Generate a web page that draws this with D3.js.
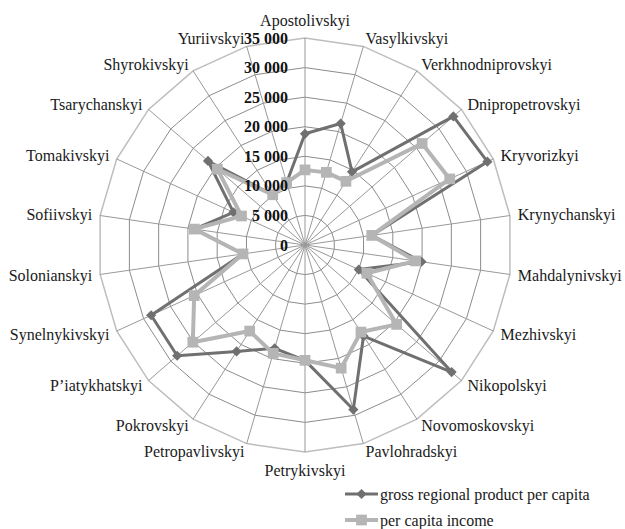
<!DOCTYPE html>
<html>
<head>
<meta charset="utf-8">
<script src="https://cdn.jsdelivr.net/npm/d3@7"></script>
<style>
  html, body { margin: 0; padding: 0; background: #fff; }
</style>
</head>
<body>
<div id="chart"></div>
<script>
const categories = [
  'Apostolivskyi', 'Vasylkivskyi', 'Verkhnodniprovskyi', 'Dnipropetrovskyi',
  'Kryvorizkyi', 'Krynychanskyi', 'Mahdalynivskyi', 'Mezhivskyi',
  'Nikopolskyi', 'Novomoskovskyi', 'Pavlohradskyi', 'Petrykivskyi',
  'Petropavlivskyi', 'Pokrovskyi', 'P\u2019iatykhatskyi', 'Synelnykivskyi',
  'Solonianskyi', 'Sofiivskyi', 'Tomakivskyi', 'Tsarychanskyi',
  'Shyrokivskyi', 'Yuriivskyi'
];
const grossProduct = [18800, 21400, 14700, 33200, 33900, 11400, 19900, 10000, 32800, 18300, 29000,
  19500, 18200, 21400, 28600, 28600, 10600, 18900, 13300, 21700, 10100, 11000];
const income = [12700, 12800, 12800, 26200, 26900, 11400, 18900, 11500, 20500, 17500, 21700,
  19500, 19100, 17300, 25100, 20600, 10600, 18900, 11800, 19600, 10100, 11000];
const ticks = [0, 5000, 10000, 15000, 20000, 25000, 30000, 35000];
const seriesNames = ['gross regional product per capita', 'per capita income'];

const width = 625, height = 529;
const cx = 305, cy = 245, R = 207;
const serif = '"Liberation Serif", "Times New Roman", serif';

const svg = d3.select('#chart').append('svg')
  .attr('width', width)
  .attr('height', height)
  .style('display', 'block');

const r = d3.scaleLinear().domain([0, 35000]).range([0, R]);
const angle = d3.scalePoint().domain(categories).range([0, 2 * Math.PI * (1 - 1 / categories.length)]);

const pt = (cat, v) => {
  const a = angle(cat);
  return [cx + r(v) * Math.sin(a), cy - r(v) * Math.cos(a)];
};

// Grid rings (polygons)
const grid = svg.append('g');
ticks.slice(1).forEach(t => {
  grid.append('polygon')
    .attr('points', categories.map(c => pt(c, t).join(',')).join(' '))
    .attr('fill', 'none')
    .attr('stroke', t === 35000 ? '#bdbdbd' : '#8c8c8c')
    .attr('stroke-width', t === 35000 ? 1.5 : 1);
});

// Spokes
grid.selectAll('line.spoke')
  .data(categories)
  .enter()
  .append('line')
  .attr('class', 'spoke')
  .attr('x1', cx).attr('y1', cy)
  .attr('x2', d => pt(d, 35000)[0])
  .attr('y2', d => pt(d, 35000)[1])
  .attr('stroke', '#999')
  .attr('stroke-width', 1);

// Category labels
svg.append('g').selectAll('text')
  .data(categories)
  .enter()
  .append('text')
  .each(function (d) {
    const a = angle(d);
    const s = Math.sin(a), c = Math.cos(a);
    let x = cx + (R + 8) * s;
    let y = cy - (R + 8) * c;
    let anchor = 'middle';
    if (s > 0.1) anchor = 'start';
    else if (s < -0.1) anchor = 'end';
    else y -= c * 10;
    d3.select(this)
      .attr('x', x)
      .attr('y', y)
      .attr('dy', '0.35em')
      .attr('text-anchor', anchor);
  })
  .attr('font-family', serif)
  .attr('font-size', 16)
  .attr('fill', '#1a1a1a')
  .text(d => d);

// Series: diamonds are squares turned 45 degrees
const line = d3.line().curve(d3.curveLinearClosed);
const series = [
  { name: seriesNames[0], values: grossProduct, color: '#707070', width: 3, size: 52, rot: 45 },
  { name: seriesNames[1], values: income, color: '#b5b5b5', width: 4, size: 115, rot: 0 }
];
const marker = s => d3.symbol().type(d3.symbolSquare).size(s.size)();

series.forEach(s => {
  const pts = categories.map((c, i) => pt(c, s.values[i]));
  const g = svg.append('g');
  g.append('path')
    .attr('d', line(pts))
    .attr('fill', 'none')
    .attr('stroke', s.color)
    .attr('stroke-width', s.width)
    .attr('stroke-linejoin', 'round');
  g.selectAll('path.m')
    .data(pts)
    .enter()
    .append('path')
    .attr('class', 'm')
    .attr('d', marker(s))
    .attr('transform', d => `translate(${d[0]},${d[1]}) rotate(${s.rot})`)
    .attr('fill', s.color);
});

// Tick labels
svg.append('g').selectAll('text')
  .data(ticks)
  .enter()
  .append('text')
  .attr('x', cx - 17)
  .attr('y', d => cy - r(d))
  .attr('dy', '0.35em')
  .attr('text-anchor', 'end')
  .attr('font-family', serif)
  .attr('font-size', 16)
  .attr('font-weight', 'bold')
  .attr('fill', '#111')
  .text(d => d3.format(',')(d).replace(/,/g, ' '));

// Legend
const legend = svg.append('g').attr('transform', 'translate(345,494)');
series.forEach((s, i) => {
  const lg = legend.append('g').attr('transform', `translate(0,${i * 26})`);
  lg.append('line')
    .attr('x1', 0).attr('x2', 33)
    .attr('y1', 0).attr('y2', 0)
    .attr('stroke', s.color)
    .attr('stroke-width', s.width);
  lg.append('path')
    .attr('d', marker(s))
    .attr('transform', `translate(16.5,0) rotate(${s.rot})`)
    .attr('fill', s.color);
  lg.append('text')
    .attr('x', 35)
    .attr('y', 0)
    .attr('dy', '0.35em')
    .attr('font-family', serif)
    .attr('font-size', 16)
    .attr('fill', '#1a1a1a')
    .text(s.name);
});
</script>
</body>
</html>
